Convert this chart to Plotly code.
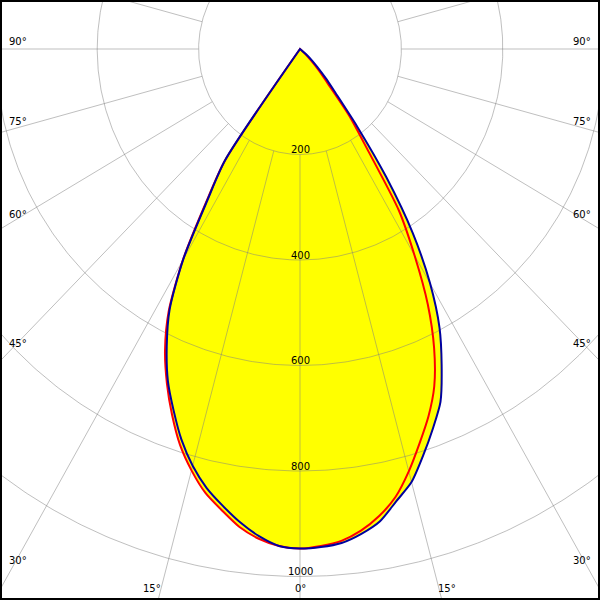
import numpy as np
import plotly.graph_objects as go

# ---------------- data ----------------
ANGLES = [0, 2.5, 5, 7.5, 10, 12.5, 15, 17.5, 20, 22.5, 25, 27.5, 30, 32.5, 35,
          37.5, 40, 42.5, 45, 47.5, 50, 55, 60, 65, 70, 75, 80, 85, 90]
# blue plane (C0 right / C180 left)
C0 = [947, 945, 940, 927, 909, 878, 850, 808, 766, 724, 661, 596, 513, 414, 297,
      185, 110, 75, 48, 30, 15, 0, 0, 0, 0, 0, 0, 0, 0]
C180 = [947, 943, 927, 905, 879, 852, 818, 777, 729, 681, 622, 557, 461, 340, 258,
        0, 0, 0, 0, 0, 0, 0, 0, 0, 0, 0, 0, 0, 0]
# red plane (C90 right / C270 left)
C90 = [947, 943, 936, 921, 899, 870, 829, 784, 741, 692, 626, 546, 452, 363, 230,
       160, 85, 55, 30, 15, 5, 0, 0, 0, 0, 0, 0, 0, 0]
C270 = [947, 943, 932, 914, 888, 862, 827, 787, 738, 686, 630, 561, 462, 345, 258,
        0, 0, 0, 0, 0, 0, 0, 0, 0, 0, 0, 0, 0, 0]

RING_VALUES = [200, 400, 600, 800, 1000, 1200]
RING_LABELS = ["200", "400", "600", "800", "1000"]
SPOKE_STEP = 15
LEFT_DEG_LABELS = ["90°", "75°", "60°", "45°", "30°"]
BOTTOM_DEG_LABELS = ["15°", "0°", "15°"]

# ---------------- geometry helpers ----------------
def plane_xy(right, left):
    a = np.radians(np.array(ANGLES, dtype=float))
    r_r = np.array(right, dtype=float)
    r_l = np.array(left, dtype=float)
    xl = -(r_l * np.sin(a))[::-1]
    yl = -(r_l * np.cos(a))[::-1]
    xr = (r_r * np.sin(a))[1:]
    yr = -(r_r * np.cos(a))[1:]
    return np.concatenate([xl, xr]), np.concatenate([yl, yr])

bx, by = plane_xy(C0, C180)
rx, ry = plane_xy(C90, C270)

# grid
gx, gy = [], []
t = np.linspace(0, 2 * np.pi, 721)
for rv in RING_VALUES:
    gx += list(rv * np.sin(t)) + [None]
    gy += list(-rv * np.cos(t)) + [None]
for k in range(0, 360, SPOKE_STEP):
    a = np.radians(k)
    gx += [200 * np.sin(a), 1400 * np.sin(a), None]
    gy += [-200 * np.cos(a), -1400 * np.cos(a), None]

SMOOTH = dict(shape="spline", smoothing=0.7)

fig = go.Figure()
fig.add_trace(go.Scatter(x=bx, y=by, fill="toself", fillcolor="#ffff00",
                         mode="lines", line=dict(width=0, color="#ffff00", **SMOOTH),
                         hoverinfo="skip", showlegend=False))
fig.add_trace(go.Scatter(x=rx, y=ry, fill="toself", fillcolor="#ffff00",
                         mode="lines", line=dict(width=0, color="#ffff00", **SMOOTH),
                         hoverinfo="skip", showlegend=False))
fig.add_trace(go.Scatter(x=gx, y=gy, mode="lines",
                         line=dict(color="rgba(128,128,128,0.5)", width=1),
                         hoverinfo="skip", showlegend=False))
fig.add_trace(go.Scatter(x=rx, y=ry, mode="lines",
                         line=dict(color="#ff0000", width=2, **SMOOTH),
                         hoverinfo="skip", showlegend=False))
fig.add_trace(go.Scatter(x=bx, y=by, mode="lines",
                         line=dict(color="#0000a0", width=2, **SMOOTH),
                         hoverinfo="skip", showlegend=False))

# scales: px per cd horizontally / vertically, centre pixel
SX, SY, CX, CY = 0.507, 0.5275, 300.0, 49.0
M = 2
xr0 = (M - CX) / SX
xr1 = (600 - M - CX) / SX
yr0 = (CY - (600 - M)) / SY
yr1 = (CY - M) / SY

FONT = dict(family="DejaVu Sans", size=10, color="black")
ann = []
for lab, rv in zip(RING_LABELS, RING_VALUES):
    ann.append(dict(x=0, y=-rv, xref="x", yref="y", text=lab, showarrow=False,
                    xanchor="center", yanchor="middle", yshift=5, font=FONT))

def pxa(text, cx, cy):
    ann.append(dict(x=(cx - M) / (600 - 2 * M), y=(600 - M - cy) / (600 - 2 * M),
                    xref="paper", yref="paper", text=text, showarrow=False,
                    xanchor="center", yanchor="middle", font=FONT))

left_pos = [(18.3, 41.5), (18.3, 121.5), (18.3, 215), (18.3, 343), (18.3, 560.5)]
for lab, (cx, cy) in zip(LEFT_DEG_LABELS, left_pos):
    pxa(lab, cx, cy)
    pxa(lab, 600 - cx + 0.5, cy)
for lab, cx in zip(BOTTOM_DEG_LABELS, [151.7, 300, 446.5]):
    pxa(lab, cx, 588)

fig.update_layout(
    width=600, height=600,
    margin=dict(l=M, r=M, t=M, b=M),
    paper_bgcolor="black", plot_bgcolor="white",
    xaxis=dict(range=[xr0, xr1], visible=False, fixedrange=True),
    yaxis=dict(range=[yr0, yr1], visible=False, fixedrange=True),
    annotations=ann,
    showlegend=False,
)
fig.write_html("out.html", config={"displayModeBar": False},
               post_script="document.body.style.margin='0px';document.body.style.padding='0px';")
